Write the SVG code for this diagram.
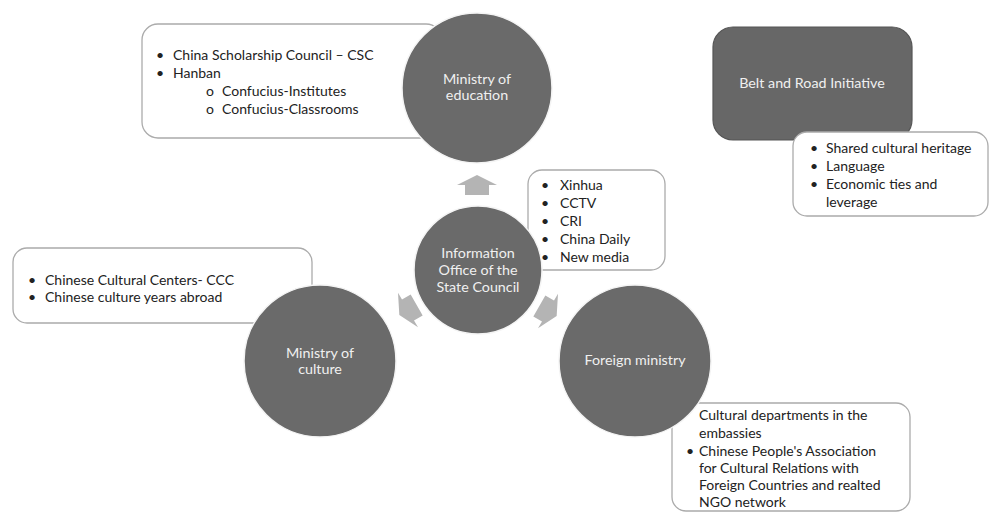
<svg xmlns="http://www.w3.org/2000/svg" width="992" height="512" viewBox="0 0 992 512">
  <defs>
    <style>
      .box { fill: #ffffff; stroke: #ababab; stroke-width: 1.3; }
      .circ { fill: #6a6a6a; stroke: #f4f4f4; stroke-width: 1.5; }
      .dark { fill: #676767; stroke: #555555; stroke-width: 1.2; }
      .t { font-family: Lato, "Open Sans", sans-serif; font-size: 14px; fill: #222222; }
      .w { font-family: Lato, "Open Sans", sans-serif; font-size: 14.3px; fill: #f0f0f0; text-anchor: middle; }
      .arr { fill: #b4b4b4; }
    </style>
    <path id="arrow" class="arr" d="M0,-10 L20,0 L12,0 L12,10 L-12,10 L-12,0 L-20,0 Z"/>
  </defs>
  <rect width="992" height="512" fill="#ffffff"/>

  <g id="connectors">
    <use href="#arrow" transform="translate(477,185)"/>
    <use href="#arrow" transform="translate(408,310) rotate(-120)"/>
    <use href="#arrow" transform="translate(548,311) rotate(120)"/>
  </g>

  <g id="education-box">
    <rect class="box" x="142" y="24" width="300" height="114" rx="16"/>
    <text class="t" x="156" y="60">•</text>
    <text class="t" x="173" y="60">China Scholarship Council – CSC</text>
    <text class="t" x="156" y="78">•</text>
    <text class="t" x="173" y="78">Hanban</text>
    <text class="t" x="206" y="96">o</text>
    <text class="t" x="222" y="96">Confucius-Institutes</text>
    <text class="t" x="206" y="114">o</text>
    <text class="t" x="222" y="114">Confucius-Classrooms</text>
  </g>

  <g id="media-box">
    <rect class="box" x="528" y="170" width="137" height="100" rx="14"/>
    <text class="t" x="541" y="190">•</text><text class="t" x="560" y="190">Xinhua</text>
    <text class="t" x="541" y="208">•</text><text class="t" x="560" y="208">CCTV</text>
    <text class="t" x="541" y="226">•</text><text class="t" x="560" y="226">CRI</text>
    <text class="t" x="541" y="244">•</text><text class="t" x="560" y="244">China Daily</text>
    <text class="t" x="541" y="262">•</text><text class="t" x="560" y="262">New media</text>
  </g>

  <g id="culture-box">
    <rect class="box" x="13" y="248" width="299" height="75" rx="14"/>
    <text class="t" x="28" y="285">•</text>
    <text class="t" x="45" y="285">Chinese Cultural Centers- CCC</text>
    <text class="t" x="28" y="302">•</text>
    <text class="t" x="45" y="302">Chinese culture years abroad</text>
  </g>

  <g id="foreign-box">
    <rect class="box" x="672" y="403" width="238" height="108" rx="14"/>
    <text class="t" x="699" y="420">Cultural departments in the</text>
    <text class="t" x="699" y="438">embassies</text>
    <text class="t" x="686" y="456">•</text>
    <text class="t" x="699" y="456">Chinese People's Association</text>
    <text class="t" x="699" y="473">for Cultural Relations with</text>
    <text class="t" x="699" y="490">Foreign Countries  and realted</text>
    <text class="t" x="699" y="507">NGO network</text>
  </g>

  <g id="belt-road">
    <rect class="dark" x="713" y="27" width="199" height="113" rx="20"/>
    <text class="w" x="812" y="88">Belt and Road Initiative</text>
  </g>

  <g id="belt-box">
    <rect class="box" x="793" y="132" width="195" height="84" rx="14"/>
    <text class="t" x="810" y="153">•</text><text class="t" x="826" y="153">Shared cultural heritage</text>
    <text class="t" x="810" y="171">•</text><text class="t" x="826" y="171">Language</text>
    <text class="t" x="810" y="189">•</text><text class="t" x="826" y="189">Economic ties and</text>
    <text class="t" x="826" y="207">leverage</text>
  </g>

  <g id="ministry-education">
    <circle class="circ" cx="477" cy="88" r="75"/>
    <text class="w" x="477" y="84">Ministry of</text>
    <text class="w" x="477" y="100">education</text>
  </g>

  <g id="information-office">
    <circle class="circ" cx="478" cy="270" r="64"/>
    <text class="w" x="478" y="258">Information</text>
    <text class="w" x="478" y="275">Office of the</text>
    <text class="w" x="478" y="292">State Council</text>
  </g>

  <g id="ministry-culture">
    <circle class="circ" cx="320" cy="361" r="76"/>
    <text class="w" x="320" y="358">Ministry of</text>
    <text class="w" x="320" y="374">culture</text>
  </g>

  <g id="foreign-ministry">
    <circle class="circ" cx="635" cy="361" r="76"/>
    <text class="w" x="635" y="365">Foreign ministry</text>
  </g>
</svg>
